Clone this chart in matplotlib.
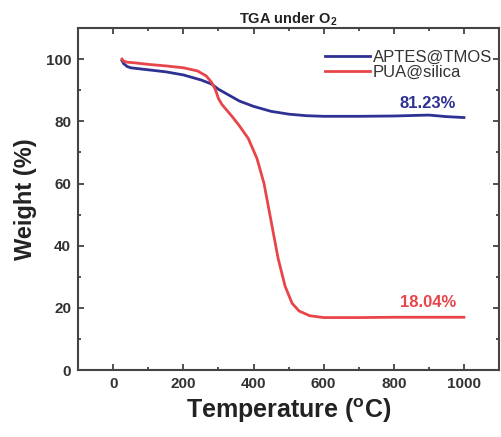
import numpy as np
import matplotlib.pyplot as plt
from matplotlib.ticker import MultipleLocator

plt.rcParams['font.family'] = ['Liberation Sans', 'DejaVu Sans']

temp_aptes = [25, 30, 40, 50, 80, 150, 200, 250, 280, 300, 330, 360, 400, 450, 500, 550, 600, 700, 800, 900, 950, 1000]
wt_aptes = [99.5, 98.5, 97.6, 97.2, 96.8, 95.9, 94.9, 93.3, 92.0, 90.3, 88.4, 86.5, 84.8, 83.2, 82.3, 81.8, 81.6, 81.6, 81.7, 82.0, 81.5, 81.2]

temp_pua = [25, 30, 40, 60, 100, 150, 200, 240, 265, 280, 290, 295, 300, 310, 325, 340, 360, 385, 410, 430, 450, 470, 490, 510, 530, 560, 600, 700, 800, 900, 1000]
wt_pua = [100.0, 99.3, 99.0, 98.8, 98.3, 97.8, 97.2, 96.2, 94.6, 92.6, 90.5, 89.0, 87.3, 85.4, 83.4, 81.4, 78.5, 74.5, 68.0, 60.0, 48.0, 36.0, 27.0, 21.5, 19.0, 17.5, 16.9, 16.9, 17.0, 17.0, 17.0]

fig = plt.figure(figsize=(5.01, 4.37), dpi=100)
ax = fig.add_axes([0.156, 0.153, 0.84, 0.783])

ax.plot(temp_aptes, wt_aptes, color='#2e3192', lw=2, label='APTES@TMOS')
ax.plot(temp_pua, wt_pua, color='#e8454a', lw=2, label='PUA@silica')

ax.text(978, 83.3, '81.23%', color='#2e3192', fontsize=12, fontweight='bold', ha='right', va='bottom')
ax.text(978, 19.3, '18.04%', color='#e8454a', fontsize=12, fontweight='bold', ha='right', va='bottom')

ax.set_xlim(-100, 1100)
ax.set_ylim(0, 110)
ax.xaxis.set_major_locator(MultipleLocator(200))
ax.xaxis.set_minor_locator(MultipleLocator(100))
ax.yaxis.set_major_locator(MultipleLocator(20))
ax.yaxis.set_minor_locator(MultipleLocator(10))
ax.tick_params(which='both', direction='in', top=True, right=True, width=1.2, labelsize=11, colors='#333333')
ax.tick_params(which='major', length=4, pad=5)
ax.tick_params(which='minor', length=2.5)
for lab in ax.get_xticklabels() + ax.get_yticklabels():
    lab.set_fontweight('bold')
for s in ax.spines.values():
    s.set_linewidth(1.5)
    s.set_color('#444444')

ax.set_xlabel('Temperature ($\\mathregular{^{o}}$C)', fontsize=18, fontweight='bold', labelpad=4, color='#222222')
ax.set_ylabel('Weight (%)', fontsize=17, fontweight='bold', labelpad=6, color='#222222')
ax.set_title('TGA under O$\\mathregular{_2}$', fontsize=10.5, fontweight='bold', pad=3, color='#222222')

leg = ax.legend(loc='upper right', bbox_to_anchor=(1.0, 0.955), frameon=False, fontsize=12,
                handlelength=2.7, borderaxespad=0.1, labelspacing=0.0, handletextpad=0.2, borderpad=0.3)
for t in leg.get_texts():
    t.set_color('#333333')

fig.savefig('out.png', dpi=100)
